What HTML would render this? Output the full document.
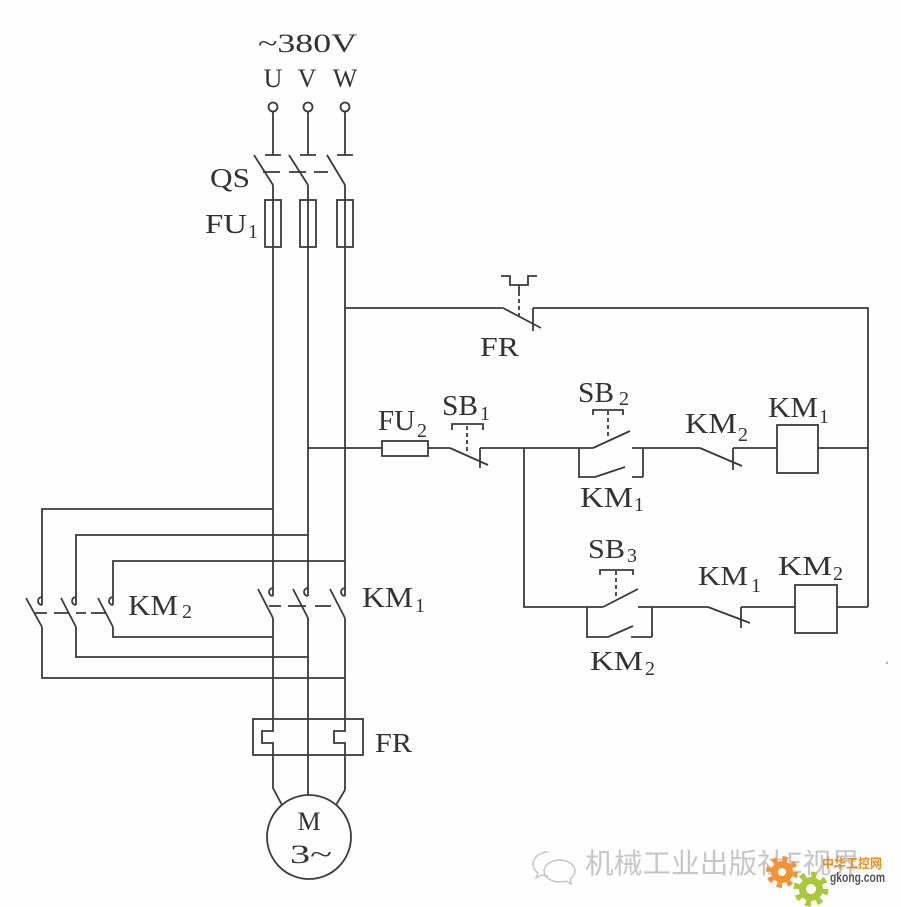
<!DOCTYPE html>
<html><head><meta charset="utf-8"><style>
html,body{margin:0;padding:0;background:#fff;}
svg{display:block;}
.t{font-family:"Liberation Serif",serif;fill:#333;}
.s{font-family:"Liberation Serif",serif;fill:#333;font-size:20px;}
</style></head><body>
<svg width="901" height="907" viewBox="0 0 901 907" xmlns="http://www.w3.org/2000/svg">
<rect width="901" height="907" fill="#fefefe"/>
<g stroke="#3a3a3a" stroke-width="1.8" fill="none" stroke-linecap="butt">
<!-- terminals -->
<circle cx="273" cy="107" r="4.5"/><circle cx="308" cy="107" r="4.5"/><circle cx="345" cy="107" r="4.5"/>
<path d="M273,111.5V155 M265,155H281 M308,111.5V155 M300,155H316 M345,111.5V155 M337,155H353"/>
<!-- QS blades -->
<path d="M254,155L273,185 M289,155L308,185 M327,155L345,185"/>
<path d="M263,172H280 M289,172H306 M314,172H328"/>
<!-- main verticals -->
<path d="M273,185V596 M308,185V596 M345,185V596"/>
<rect x="265" y="200" width="16" height="47" fill="#fff"/>
<rect x="300" y="200" width="16" height="47" fill="#fff"/>
<rect x="337" y="200" width="16" height="47" fill="#fff"/>
<path d="M273,200V247 M308,200V247 M345,200V247"/>
<!-- KM1 main contacts -->
<path d="M273,588A4,4 0 0 0 273,596 M308,588A4,4 0 0 0 308,596 M345,588A4,4 0 0 0 345,596"/>
<path d="M258,589L273,618 M293,589L308,618 M330,589L345,618"/>
<path d="M269,606H281 M288,606H306 M315,606H331"/>
<!-- lower verticals -->
<path d="M273,618V731H262V743H273V788L282,805 M308,618V795 M345,618V731H334V743H345V790L336,805"/>
<rect x="253" y="719" width="110" height="36"/>
<circle cx="309" cy="837" r="42"/>
<!-- KM2 reversing loops -->
<path d="M273,509H42V605 M42,597A4,4 0 0 0 42,605 M26,598L42,627 M42,627V678H345"/>
<path d="M308,535H76V605 M76,597A4,4 0 0 0 76,605 M61,598L76,627 M76,627V657H308"/>
<path d="M345,561H113V605 M113,597A4,4 0 0 0 113,605 M98,598L113,627 M113,627V637H273"/>
<path d="M35,613H47 M54,613H68 M76,613H86 M91,613H106"/>
<!-- control: FR NC -->
<path d="M345,308H503 M503,308L541,328 M533,308V331 M533,308H868V607"/>
<path d="M501,276H510V285H528V276H537 M519,285V296"/>
<path d="M519,299V316" stroke-dasharray="4,3"/>
<!-- row 1 -->
<path d="M308,448H382 M428,448H450 M450,448L488,465 M480,448V468 M480,448H593"/>
<rect x="382" y="441" width="46" height="15"/>
<path d="M452,430V424H483V430"/>
<path d="M467,426V454" stroke-dasharray="4,3"/>
<path d="M593,448L630,431 M632,448H700 M643,448V477 M579,448V477H595 M595,477L625,467 M632,477H643"/>
<path d="M593,415V410H623V415"/>
<path d="M608,411V439" stroke-dasharray="4,3"/>
<path d="M700,448L742,466 M733,448V470 M733,448H777 M818,448H868"/>
<rect x="777" y="425" width="41" height="48"/>
<!-- row 2 -->
<path d="M524,448V607H603 M603,607L638,589 M638,607H708 M652,607V637 M587,607V637H608 M608,637L633,626 M631,637H652"/>
<path d="M600,575V570H633V575"/>
<path d="M616,571V599" stroke-dasharray="4,3"/>
<path d="M708,607L750,623 M741,607V628 M741,607H795 M837,607H868"/>
<rect x="795" y="585" width="42" height="48"/>
</g>
<!-- labels -->
<text class="t" x="258" y="52" font-size="26" textLength="99" lengthAdjust="spacingAndGlyphs">~380V</text>
<text class="t" x="273" y="87" font-size="26" text-anchor="middle">U</text>
<text class="t" x="307" y="87" font-size="26" text-anchor="middle">V</text>
<text class="t" x="345" y="87" font-size="26" text-anchor="middle">W</text>
<text class="t" x="210" y="187" font-size="27" textLength="40" lengthAdjust="spacingAndGlyphs">QS</text>
<text class="t" x="205" y="233" font-size="27" textLength="42" lengthAdjust="spacingAndGlyphs">FU</text><text class="s" x="248" y="238">1</text>
<text class="t" x="480" y="356" font-size="27" textLength="39" lengthAdjust="spacingAndGlyphs">FR</text>
<text class="t" x="378" y="430" font-size="28" textLength="37" lengthAdjust="spacingAndGlyphs">FU</text><text class="s" x="417" y="437">2</text>
<text class="t" x="442" y="415" font-size="28" textLength="36" lengthAdjust="spacingAndGlyphs">SB</text><text class="s" x="480" y="420">1</text>
<text class="t" x="578" y="402" font-size="28" textLength="36" lengthAdjust="spacingAndGlyphs">SB</text><text class="s" x="619" y="405">2</text>
<text class="t" x="580" y="507" font-size="29" textLength="53" lengthAdjust="spacingAndGlyphs">KM</text><text class="s" x="634" y="511">1</text>
<text class="t" x="685" y="433" font-size="29" textLength="52" lengthAdjust="spacingAndGlyphs">KM</text><text class="s" x="738" y="441">2</text>
<text class="t" x="768" y="417" font-size="29" textLength="50" lengthAdjust="spacingAndGlyphs">KM</text><text class="s" x="819" y="423">1</text>
<text class="t" x="588" y="558" font-size="27" textLength="37" lengthAdjust="spacingAndGlyphs">SB</text><text class="s" x="627" y="562">3</text>
<text class="t" x="698" y="585" font-size="27" textLength="50" lengthAdjust="spacingAndGlyphs">KM</text><text class="s" x="751" y="592">1</text>
<text class="t" x="778" y="575" font-size="27" textLength="54" lengthAdjust="spacingAndGlyphs">KM</text><text class="s" x="833" y="580">2</text>
<text class="t" x="590" y="670" font-size="27" textLength="53" lengthAdjust="spacingAndGlyphs">KM</text><text class="s" x="645" y="675">2</text>
<text class="t" x="128" y="615" font-size="29" textLength="50" lengthAdjust="spacingAndGlyphs">KM</text><text class="s" x="182" y="618">2</text>
<text class="t" x="362" y="607" font-size="29" textLength="51" lengthAdjust="spacingAndGlyphs">KM</text><text class="s" x="415" y="612">1</text>
<text class="t" x="375" y="752" font-size="27" textLength="37" lengthAdjust="spacingAndGlyphs">FR</text>
<text class="t" x="309" y="830" font-size="26" text-anchor="middle">M</text>
<text class="t" x="290" y="863" font-size="26" textLength="42" lengthAdjust="spacingAndGlyphs">3~</text>
<!-- watermark -->
<g stroke="#c4c4c4" stroke-width="1.5" fill="none">
<path d="M548,852c-9,0-15,6-15,12c0,4,2,7,5,9l-2,5l6-3c2,1,4,1,6,1"/>
<path d="M560,860c-9,0-16,5-16,11c0,6,7,11,16,11c2,0,4,0,6-1l5,3l-1-5c3-2,5-5,5-8c0-6-7-11-15-11z"/>
</g>
<text x="585" y="873" font-family="'Noto Sans CJK SC','WenQuanYi Zen Hei',sans-serif" font-size="28" fill="#c6c6c6" textLength="275" lengthAdjust="spacingAndGlyphs">机械工业出版社E视界</text>
<g>
<circle cx="782" cy="872" r="11" fill="#f29436"/>
<circle cx="782" cy="872" r="13" fill="none" stroke="#f29436" stroke-width="6" stroke-dasharray="5,5.2"/>
<circle cx="782" cy="872" r="4" fill="#fff"/>
<circle cx="811" cy="889" r="12" fill="#a9c93a"/>
<circle cx="811" cy="889" r="14.5" fill="none" stroke="#a9c93a" stroke-width="6" stroke-dasharray="5.5,5.9"/>
<circle cx="811" cy="889" r="5" fill="#fff"/>
</g>
<text x="822" y="868" font-family="'Noto Sans CJK SC','WenQuanYi Zen Hei',sans-serif" font-size="13" font-weight="bold" fill="#f08a1c" textLength="60" lengthAdjust="spacingAndGlyphs">中华工控网</text>
<text x="830" y="882" font-family="'Liberation Sans',sans-serif" font-size="14" font-weight="bold" fill="#555" textLength="55" lengthAdjust="spacingAndGlyphs">gkong.com</text>
<circle cx="887" cy="663" r="1" fill="#999"/>
</svg>
</body></html>
